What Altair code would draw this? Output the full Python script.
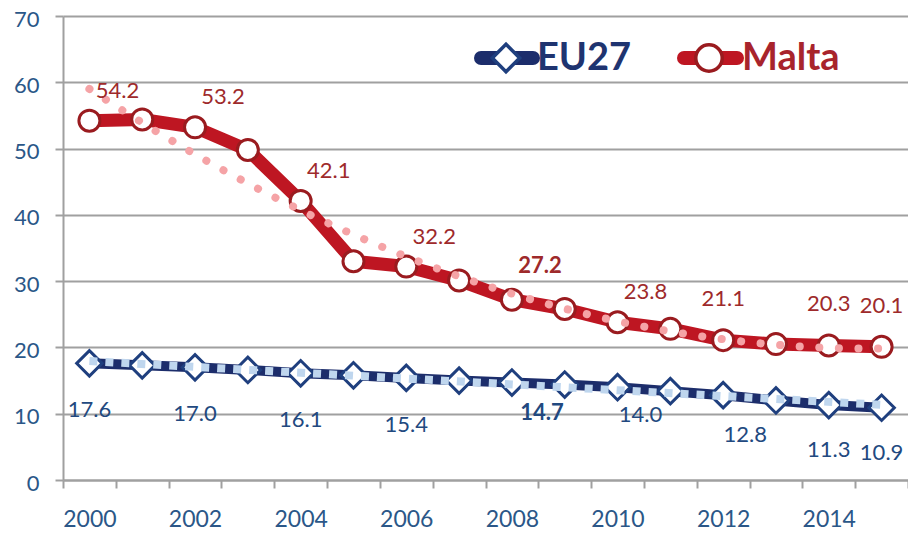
import altair as alt
import pandas as pd

# ---- data ----
years = list(range(2000, 2016))
series_names = ["EU27", "Malta"]
eu27 = [17.6, 17.3, 17.0, 16.6, 16.1, 15.8, 15.4, 15.0, 14.7, 14.4, 14.0, 13.4, 12.8, 12.0, 11.3, 10.9]
malta = [54.2, 54.4, 53.2, 49.8, 42.1, 33.0, 32.2, 30.1, 27.2, 25.8, 23.8, 22.8, 21.1, 20.5, 20.3, 20.1]
y_ticks = [0, 10, 20, 30, 40, 50, 60, 70]
x_tick_edges = [y - 0.5 for y in years] + [years[-1] + 0.5]

df = pd.DataFrame({
    "year": years * 2,
    "series": [series_names[0]] * len(years) + [series_names[1]] * len(years),
    "value": eu27 + malta,
})

# ---- styling ----
W, H = 845, 464
FONT = "Lato"
AXIS_COL = "#2B5788"
GRID_COL = "#A0A0A0"
NAVY = "#1C2D6B"
DIAMOND = "#1F3F7E"
RED = "#BE1622"
CIRCLE = "#9A1B1F"
PINK = "#F5A3A6"
LBLUE = "#BFD6EE"
EU_TXT = "#22497F"
MT_TXT = "#9E2A2B"
half_band = W / len(years) / 2

x_enc = alt.X(
    "year:Q",
    scale=alt.Scale(domain=[years[0] - 0.5, years[-1] + 0.5], nice=False, zero=False),
    axis=alt.Axis(
        values=x_tick_edges,
        labelExpr="((datum.value + 0.5) % 2 == 0 && datum.value < 2015) ? '' + (datum.value + 0.5) : ''",
        labelOffset=half_band,
        labelOverlap=False,
        labelFlush=False,
        grid=False,
        title=None,
        tickSize=8,
        tickWidth=2,
        tickColor=GRID_COL,
        domainColor=GRID_COL,
        domainWidth=2,
        labelPadding=20,
        labelFontSize=23,
    ),
)
y_enc = alt.Y(
    "value:Q",
    scale=alt.Scale(domain=[0, 70], nice=False),
    axis=alt.Axis(
        values=y_ticks,
        grid=True,
        gridColor=GRID_COL,
        gridWidth=2,
        tickSize=8,
        tickWidth=2,
        tickColor=GRID_COL,
        domainColor=GRID_COL,
        domainWidth=2,
        title=None,
        labelPadding=16,
        labelOffset=3,
        labelFontSize=22,
    ),
)

base = alt.Chart(df)
eu = base.transform_filter(alt.datum.series == series_names[0])
mt = base.transform_filter(alt.datum.series == series_names[1])

layers = []
layers.append(mt.mark_line(color=RED, strokeWidth=13, strokeJoin="round", strokeCap="round").encode(x=x_enc, y=y_enc))
layers.append(eu.mark_line(color=NAVY, strokeWidth=10, strokeJoin="round", strokeCap="round").encode(x=x_enc, y=y_enc))
layers.append(mt.mark_point(shape="circle", filled=True, fill="white", stroke=CIRCLE, strokeWidth=3, size=441, opacity=1).encode(x=x_enc, y=y_enc))
layers.append(eu.mark_point(shape="diamond", filled=True, fill="white", stroke=DIAMOND, strokeWidth=3, size=650, opacity=1).encode(x=x_enc, y=y_enc))

# trend lines
layers.append(
    mt.transform_regression("year", "value", method="poly", order=2, extent=[years[0], years[-1]])
    .mark_line(color=PINK, strokeWidth=8, strokeCap="round", strokeDash=[0.1, 19.5])
    .encode(x=x_enc, y=y_enc)
)
layers.append(
    eu.transform_regression("year", "value", method="linear", extent=[years[0], years[-1]])
    .mark_line(color=LBLUE, strokeWidth=8, strokeCap="butt", strokeDash=[8, 8])
    .encode(x=x_enc, y=y_enc)
)

# data labels
def labels(src, yrs, dx, dy, color, bold=False):
    return (
        src.transform_filter(alt.FieldOneOfPredicate(field="year", oneOf=yrs))
        .mark_text(font=FONT, fontSize=22, color=color, dx=dx, dy=dy,
                   fontWeight="bold" if bold else "normal", align="center", baseline="middle")
        .encode(x=x_enc, y=y_enc, text=alt.Text("value:Q", format=".1f"))
    )

layers += [
    labels(mt, [2000, 2002, 2004, 2006, 2010], 28, -30, MT_TXT),
    labels(mt, [2008], 28, -34, MT_TXT, bold=True),
    labels(mt, [2012, 2014, 2015], 0, -41, MT_TXT),
    labels(eu, [2000, 2002, 2004, 2006], 0, 47, EU_TXT),
    labels(eu, [2008], 30, 30, EU_TXT, bold=True),
    labels(eu, [2010], 23, 28, EU_TXT),
    labels(eu, [2012], 22, 40, EU_TXT),
    labels(eu, [2014, 2015], 0, 45, EU_TXT),
]

# legend (drawn manually)
leg = alt.Chart(pd.DataFrame({"series": series_names}))
leg_eu = leg.transform_filter(alt.datum.series == series_names[0])
leg_mt = leg.transform_filter(alt.datum.series == series_names[1])
LY = 42
layers += [
    leg_eu.mark_rule(color=NAVY, strokeWidth=14, strokeCap="round").encode(x=alt.value(418), x2=alt.value(470), y=alt.value(LY)),
    leg_eu.mark_point(shape="diamond", filled=True, fill="white", stroke=DIAMOND, strokeWidth=3.5, size=750, opacity=1).encode(x=alt.value(443), y=alt.value(LY)),
    leg_eu.mark_text(font=FONT, fontSize=38, fontWeight="bold", color="#1F3470", align="left", baseline="middle").encode(x=alt.value(474), y=alt.value(LY + 1), text="series:N"),
    leg_mt.mark_rule(color=RED, strokeWidth=14, strokeCap="round").encode(x=alt.value(621), x2=alt.value(674), y=alt.value(LY)),
    leg_mt.mark_point(shape="circle", filled=True, fill="white", stroke=CIRCLE, strokeWidth=3.5, size=700, opacity=1).encode(x=alt.value(646), y=alt.value(LY)),
    leg_mt.mark_text(font=FONT, fontSize=38, fontWeight="bold", color="#A8242C", align="left", baseline="middle").encode(x=alt.value(679), y=alt.value(LY + 1), text="series:N"),
]

chart = (
    alt.layer(*layers)
    .properties(
        width=W, height=H,
        autosize=alt.AutoSizeParams(type="none"),
        padding={"left": 55, "top": 8, "right": 0, "bottom": 56},
    )
    .configure_view(stroke=None)
    .configure_axis(labelFont=FONT, labelColor=AXIS_COL)
)

chart.save("out.html", embed_options={"renderer": "svg", "actions": False})
